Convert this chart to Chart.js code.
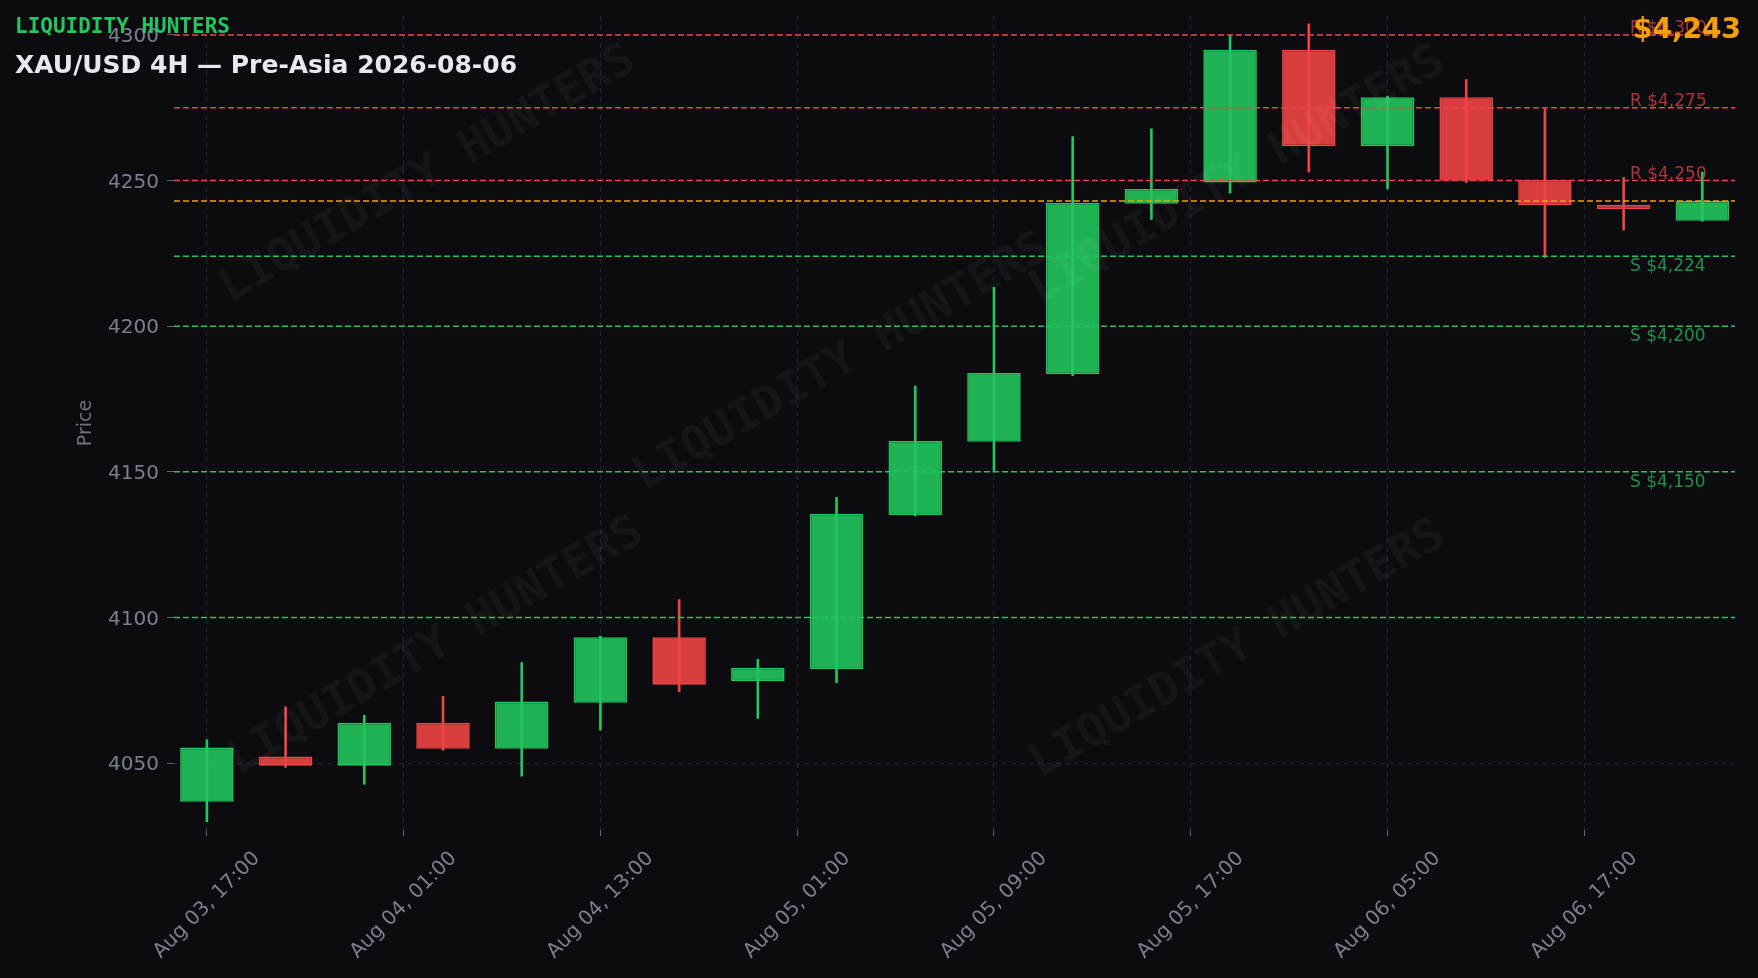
<!DOCTYPE html>
<html>
<head>
<meta charset="utf-8">
<script src="https://cdn.jsdelivr.net/npm/chart.js@4.4.1/dist/chart.umd.min.js"></script>
<style>
  html, body { margin: 0; padding: 0; background: #0b0b10; }
  canvas { display: block; }
</style>
</head>
<body>
<canvas id="c" width="1758" height="978"></canvas>
<script>
// ---- data ----
const categories = [
  "Aug 03, 17:00", "Aug 03, 21:00", "Aug 04, 01:00", "Aug 04, 05:00", "Aug 04, 09:00",
  "Aug 04, 13:00", "Aug 04, 17:00", "Aug 04, 21:00", "Aug 05, 01:00", "Aug 05, 05:00",
  "Aug 05, 09:00", "Aug 05, 13:00", "Aug 05, 17:00", "Aug 05, 21:00", "Aug 06, 01:00",
  "Aug 06, 05:00", "Aug 06, 09:00", "Aug 06, 13:00", "Aug 06, 17:00", "Aug 06, 21:00"
];
const openPrices  = [4036.7, 4052.2, 4049.1, 4063.8, 4054.9, 4070.7, 4093.2, 4078.2, 4082.3, 4135.2,
                     4160.3, 4183.5, 4242.0, 4249.3, 4294.9, 4261.8, 4278.6, 4250.2, 4241.7, 4236.2];
const highPrices  = [4058.0, 4069.3, 4066.4, 4072.9, 4084.5, 4093.6, 4106.1, 4085.6, 4141.2, 4179.4,
                     4213.3, 4265.1, 4267.8, 4300.0, 4303.8, 4279.0, 4284.7, 4274.7, 4251.1, 4252.9];
const lowPrices   = [4029.8, 4048.5, 4042.7, 4054.4, 4045.5, 4061.3, 4074.5, 4065.3, 4077.6, 4134.8,
                     4149.9, 4183.0, 4236.6, 4245.7, 4252.9, 4247.1, 4249.3, 4223.5, 4233.0, 4236.0];
const closePrices = [4055.3, 4049.1, 4063.8, 4054.9, 4071.1, 4093.2, 4076.9, 4082.7, 4135.6, 4160.6,
                     4183.9, 4242.4, 4247.1, 4294.9, 4261.8, 4278.6, 4249.9, 4241.5, 4240.2, 4243.0];

const xTickPositions = [0, 2.5, 5, 7.5, 10, 12.5, 15, 17.5];
const xTickLabels = ["Aug 03, 17:00", "Aug 04, 01:00", "Aug 04, 13:00", "Aug 05, 01:00",
                     "Aug 05, 09:00", "Aug 05, 17:00", "Aug 06, 05:00", "Aug 06, 17:00"];
const yTicks = [4050, 4100, 4150, 4200, 4250, 4300];

const resistanceLevels = [4300, 4275, 4250];
const supportLevels = [4224, 4200, 4150];
const unlabeledSupportLevels = [4100];
const currentPrice = 4243;

const brandText = "LIQUIDITY HUNTERS";
const titleText = "XAU/USD 4H \u2014 Pre-Asia 2026-08-06";

// ---- styles ----
const BG = '#0b0b10';
const GREEN = '#22c55e', RED = '#ef4444', ORANGE = '#f59e0b';
const GREEN_FILL = 'rgba(34,197,94,0.9)', RED_FILL = 'rgba(239,68,68,0.9)';
const TICK_COLOR = '#7a808c';
const GRID_COLOR = '#23242d';

const fmt = v => '$' + v.toLocaleString('en-US');
const isUp = i => closePrices[i] >= openPrices[i];

const bodyData = categories.map((c, i) => ({ x: i, y: [openPrices[i], closePrices[i]] }));
const wickData = categories.map((c, i) => ({ x: i, y: [lowPrices[i], highPrices[i]] }));
const candleColors = categories.map((c, i) => isUp(i) ? GREEN : RED);
const candleFills = categories.map((c, i) => isUp(i) ? GREEN_FILL : RED_FILL);

const bgPlugin = {
  id: 'bg',
  beforeDraw(chart) {
    const { ctx, width, height } = chart;
    ctx.save();
    ctx.fillStyle = BG;
    ctx.fillRect(0, 0, width, height);
    ctx.restore();
  }
};

const overlayPlugin = {
  id: 'overlay',
  afterDatasetsDraw(chart) {
    const { ctx, chartArea: a, scales: { y } } = chart;
    ctx.save();
    // watermarks
    ctx.font = 'bold 46px "DejaVu Sans Mono"';
    ctx.fillStyle = 'rgba(255,255,255,0.04)';
    ctx.textAlign = 'center';
    ctx.textBaseline = 'middle';
    const marks = [[428, 175], [1238, 176], [842, 363], [436, 647], [1238, 650]];
    marks.forEach(([mx, my]) => {
      ctx.save();
      ctx.translate(mx, my);
      ctx.rotate(-Math.PI / 6);
      ctx.fillText(brandText, 0, 0);
      ctx.restore();
    });
    // level lines
    ctx.lineWidth = 1.5;
    ctx.setLineDash([6, 3]);
    const hline = (v, color) => {
      const py = y.getPixelForValue(v);
      ctx.strokeStyle = color;
      ctx.beginPath();
      ctx.moveTo(a.left, py);
      ctx.lineTo(a.right, py);
      ctx.stroke();
    };
    resistanceLevels.forEach(v => hline(v, RED));
    supportLevels.forEach(v => hline(v, GREEN));
    unlabeledSupportLevels.forEach(v => hline(v, GREEN));
    hline(currentPrice, ORANGE);
    ctx.setLineDash([]);
    // level labels
    ctx.font = '17px "DejaVu Sans"';
    ctx.textAlign = 'left';
    ctx.textBaseline = 'alphabetic';
    const lx = a.right - 105;
    ctx.fillStyle = 'rgba(239,68,68,0.72)';
    resistanceLevels.forEach(v => ctx.fillText('R ' + fmt(v), lx, y.getPixelForValue(v) - 2));
    ctx.fillStyle = 'rgba(34,197,94,0.72)';
    supportLevels.forEach(v => ctx.fillText('S ' + fmt(v), lx, y.getPixelForValue(v) + 15));
    ctx.restore();
  },
  afterDraw(chart) {
    const { ctx, chartArea: a, scales: { x } } = chart;
    ctx.save();
    // x tick labels rotated 45deg, centered on tick
    ctx.font = '20px "DejaVu Sans"';
    ctx.fillStyle = TICK_COLOR;
    ctx.textAlign = 'center';
    ctx.textBaseline = 'middle';
    const H = 23.4;
    xTickPositions.forEach((v, i) => {
      const label = xTickLabels[i];
      const w = ctx.measureText(label).width;
      const ext = (w + H) / Math.SQRT2;
      const px = x.getPixelForValue(v);
      const cy = a.bottom + 17 + ext / 2;
      ctx.save();
      ctx.translate(px, cy);
      ctx.rotate(-Math.PI / 4);
      ctx.fillText(label, 0, 0);
      ctx.restore();
    });
    // headings
    ctx.textAlign = 'left';
    ctx.textBaseline = 'alphabetic';
    ctx.fillStyle = GREEN;
    ctx.font = 'bold 21px "DejaVu Sans Mono"';
    ctx.fillText(brandText, 15, 33);
    ctx.fillStyle = '#e8e8ee';
    ctx.font = 'bold 25px "DejaVu Sans"';
    ctx.fillText(titleText, 15, 73);
    ctx.textAlign = 'right';
    ctx.fillStyle = ORANGE;
    ctx.font = 'bold 28px "DejaVu Sans"';
    ctx.fillText(fmt(currentPrice), 1741, 38);
    ctx.restore();
  }
};

Chart.defaults.font.family = '"DejaVu Sans"';

new Chart(document.getElementById('c'), {
  type: 'bar',
  data: {
    datasets: [
      {
        label: 'body',
        data: bodyData,
        backgroundColor: candleFills,
        borderColor: candleColors,
        borderWidth: 1.6,
        borderSkipped: false,
        barPercentage: 0.68,
        categoryPercentage: 1,
        grouped: false,
        order: 0
      },
      {
        label: 'wick',
        data: wickData,
        backgroundColor: candleColors,
        borderWidth: 0,
        barThickness: 2,
        grouped: false,
        order: 1
      }
    ]
  },
  options: {
    responsive: false,
    animation: false,
    devicePixelRatio: 1,
    layout: { padding: { left: 0, right: 23, top: 16, bottom: 0 } },
    plugins: { legend: { display: false }, tooltip: { enabled: false }, title: { display: false } },
    scales: {
      x: {
        type: 'linear',
        min: -0.418,
        max: 19.415,
        offset: false,
        afterBuildTicks: s => { s.ticks = xTickPositions.map(v => ({ value: v })); },
        afterFit: s => { s.height = 148; s.paddingLeft = 0; s.paddingRight = 0; },
        ticks: { display: false },
        grid: { color: GRID_COLOR, lineWidth: 1, offset: false, drawTicks: true, tickLength: 6, tickColor: '#5f6470', tickWidth: 1 },
        border: { display: false, dash: [5, 4] }
      },
      y: {
        type: 'linear',
        min: 4027,
        max: 4306.5,
        afterBuildTicks: s => { s.ticks = yTicks.map(v => ({ value: v })); },
        afterFit: s => { s.width = 174; s.paddingTop = 0; s.paddingBottom = 0; },
        ticks: { color: TICK_COLOR, font: { size: 20 }, padding: 8, labelOffset: 2, callback: v => String(v) },
        grid: { color: GRID_COLOR, lineWidth: 1, drawTicks: true, tickLength: 7, tickColor: '#5f6470', tickWidth: 1 },
        border: { display: false, dash: [5, 4] },
        title: { display: true, text: 'Price', color: '#6b7080', font: { size: 19 }, padding: { top: 75, bottom: 0 } }
      }
    }
  },
  plugins: [bgPlugin, overlayPlugin]
});
</script>
</body>
</html>
